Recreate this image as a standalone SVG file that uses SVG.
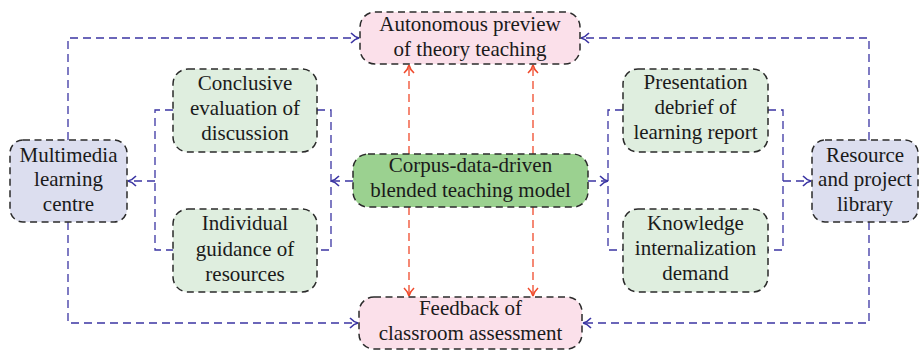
<svg xmlns="http://www.w3.org/2000/svg" width="919" height="351" viewBox="0 0 919 351">
<style>
.box{stroke:#2b2b2b;stroke-width:1.5;stroke-dasharray:7 4.5}
.pink{fill:#fbe0ea}
.lg{fill:#dfeedf}
.dg{fill:#9bd190}
.lav{fill:#dcdeef}
.t{font-family:"Liberation Serif","Times New Roman",serif;font-size:21px;fill:#1a1a1a;text-anchor:middle}
.bl{fill:none;stroke:#3b35a3;stroke-width:1.3;stroke-dasharray:8 5}
.rd{fill:none;stroke:#f04a2c;stroke-width:1.3;stroke-dasharray:8 5}
</style>
<defs>
<marker id="ab" viewBox="-10 -6 12 12" refX="0" refY="0" markerWidth="12" markerHeight="12" orient="auto" markerUnits="userSpaceOnUse">
<path d="M-8,-5 C-5,-1.8 -1.5,-0.3 0,0 C-1.5,0.3 -5,1.8 -8,5" fill="none" stroke="#3b35a3" stroke-width="1.6"/>
</marker>
<marker id="ar" viewBox="-10 -6 12 12" refX="0" refY="0" markerWidth="12" markerHeight="12" orient="auto" markerUnits="userSpaceOnUse">
<path d="M-8,-5 C-5,-1.8 -1.5,-0.3 0,0 C-1.5,0.3 -5,1.8 -8,5" fill="none" stroke="#f04a2c" stroke-width="1.6"/>
</marker>
</defs>
<g id="connectors">
<path class="bl" d="M68,140 V38 H359" marker-end="url(#ab)"/>
<path class="bl" d="M869,140 V38 H581" marker-end="url(#ab)"/>
<path class="bl" d="M68,222 V323 H358" marker-end="url(#ab)"/>
<path class="bl" d="M869,222 V323 H583" marker-end="url(#ab)"/>
<path class="bl" d="M353,181 H331" marker-end="url(#ab)"/>
<path class="bl" d="M317,110 H331 V250 H317"/>
<path class="bl" d="M173,110 H155 V250 H173"/>
<path class="bl" d="M155,181 H128" marker-end="url(#ab)"/>
<path class="bl" d="M588,181 H608" marker-end="url(#ab)"/>
<path class="bl" d="M623,110 H608 V250 H623"/>
<path class="bl" d="M768,110 H783 V250 H768"/>
<path class="bl" d="M783,181 H811" marker-end="url(#ab)"/>
<path class="rd" d="M409,154 V65" marker-end="url(#ar)"/>
<path class="rd" d="M533,154 V65" marker-end="url(#ar)"/>
<path class="rd" d="M409,207 V296" marker-end="url(#ar)"/>
<path class="rd" d="M533,207 V296" marker-end="url(#ar)"/>
</g>
<g id="autonomous">
<rect class="box pink" x="360" y="12" width="220" height="52" rx="15"/>
<text class="t" x="470" y="31">Autonomous preview</text>
<text class="t" x="470" y="56">of theory teaching</text>
</g>
<g id="feedback">
<rect class="box pink" x="359" y="297" width="223" height="52" rx="15"/>
<text class="t" x="470.5" y="315">Feedback of</text>
<text class="t" x="470.5" y="340">classroom assessment</text>
</g>
<g id="corpus">
<rect class="box dg" x="353" y="154" width="235" height="53" rx="15"/>
<text class="t" x="470.5" y="172">Corpus-data-driven</text>
<text class="t" x="470.5" y="197">blended teaching model</text>
</g>
<g id="multimedia">
<rect class="box lav" x="10" y="140" width="117" height="82" rx="13"/>
<text class="t" x="68.5" y="162">Multimedia</text>
<text class="t" x="68.5" y="186">learning</text>
<text class="t" x="68.5" y="211">centre</text>
</g>
<g id="resource">
<rect class="box lav" x="812" y="140" width="106" height="82" rx="13"/>
<text class="t" x="865" y="162">Resource</text>
<text class="t" x="865" y="186">and project</text>
<text class="t" x="865" y="211">library</text>
</g>
<g id="conclusive">
<rect class="box lg" x="173" y="69" width="144" height="83" rx="15"/>
<text class="t" x="245" y="90">Conclusive</text>
<text class="t" x="245" y="115">evaluation of</text>
<text class="t" x="245" y="140">discussion</text>
</g>
<g id="individual">
<rect class="box lg" x="173" y="209" width="144" height="83" rx="15"/>
<text class="t" x="245" y="230">Individual</text>
<text class="t" x="245" y="256">guidance of</text>
<text class="t" x="245" y="281">resources</text>
</g>
<g id="presentation">
<rect class="box lg" x="623" y="69" width="145" height="83" rx="15"/>
<text class="t" x="695.5" y="89">Presentation</text>
<text class="t" x="695.5" y="114">debrief of</text>
<text class="t" x="695.5" y="139">learning report</text>
</g>
<g id="knowledge">
<rect class="box lg" x="623" y="209" width="145" height="83" rx="15"/>
<text class="t" x="695.5" y="230">Knowledge</text>
<text class="t" x="695.5" y="255">internalization</text>
<text class="t" x="695.5" y="280">demand</text>
</g>
</svg>
